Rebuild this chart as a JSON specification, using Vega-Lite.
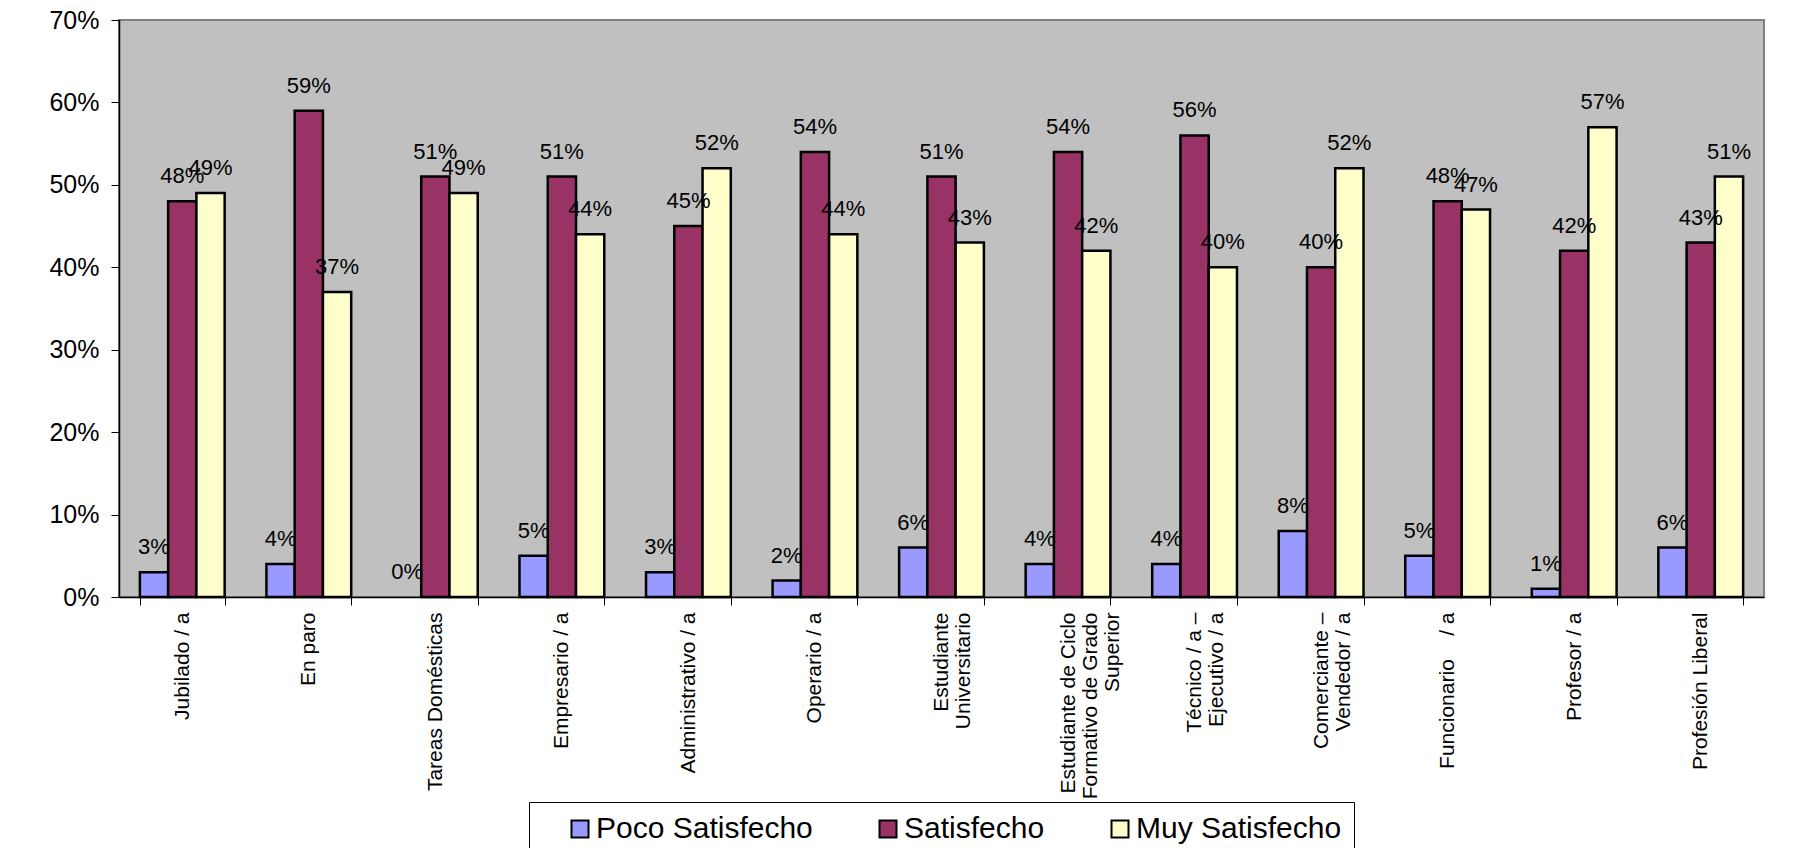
{
  "$schema": "https://vega.github.io/schema/vega-lite/v6.json",
  "autosize": {"type": "none"},
  "width": 1645,
  "height": 577,
  "padding": {"left": 119, "top": 20, "right": 32, "bottom": 251},
  "background": "white",
  "config": {
    "font": "Liberation Sans",
    "view": {"fill": "#C0C0C0", "stroke": "#808080", "strokeWidth": 2}
  },
  "data": {
    "values": [
      {"ocupacion": "Jubilado / a", "grupo": "Poco Satisfecho", "valor": 0.03},
      {"ocupacion": "Jubilado / a", "grupo": "Satisfecho", "valor": 0.48},
      {"ocupacion": "Jubilado / a", "grupo": "Muy Satisfecho", "valor": 0.49},
      {"ocupacion": "En paro", "grupo": "Poco Satisfecho", "valor": 0.04},
      {"ocupacion": "En paro", "grupo": "Satisfecho", "valor": 0.59},
      {"ocupacion": "En paro", "grupo": "Muy Satisfecho", "valor": 0.37},
      {"ocupacion": "Tareas Domésticas", "grupo": "Poco Satisfecho", "valor": 0.0},
      {"ocupacion": "Tareas Domésticas", "grupo": "Satisfecho", "valor": 0.51},
      {"ocupacion": "Tareas Domésticas", "grupo": "Muy Satisfecho", "valor": 0.49},
      {"ocupacion": "Empresario / a", "grupo": "Poco Satisfecho", "valor": 0.05},
      {"ocupacion": "Empresario / a", "grupo": "Satisfecho", "valor": 0.51},
      {"ocupacion": "Empresario / a", "grupo": "Muy Satisfecho", "valor": 0.44},
      {"ocupacion": "Administrativo / a", "grupo": "Poco Satisfecho", "valor": 0.03},
      {"ocupacion": "Administrativo / a", "grupo": "Satisfecho", "valor": 0.45},
      {"ocupacion": "Administrativo / a", "grupo": "Muy Satisfecho", "valor": 0.52},
      {"ocupacion": "Operario / a", "grupo": "Poco Satisfecho", "valor": 0.02},
      {"ocupacion": "Operario / a", "grupo": "Satisfecho", "valor": 0.54},
      {"ocupacion": "Operario / a", "grupo": "Muy Satisfecho", "valor": 0.44},
      {"ocupacion": "Estudiante|Universitario", "grupo": "Poco Satisfecho", "valor": 0.06},
      {"ocupacion": "Estudiante|Universitario", "grupo": "Satisfecho", "valor": 0.51},
      {"ocupacion": "Estudiante|Universitario", "grupo": "Muy Satisfecho", "valor": 0.43},
      {"ocupacion": "Estudiante de Ciclo|Formativo de Grado|Superior", "grupo": "Poco Satisfecho", "valor": 0.04},
      {"ocupacion": "Estudiante de Ciclo|Formativo de Grado|Superior", "grupo": "Satisfecho", "valor": 0.54},
      {"ocupacion": "Estudiante de Ciclo|Formativo de Grado|Superior", "grupo": "Muy Satisfecho", "valor": 0.42},
      {"ocupacion": "Técnico / a –|Ejecutivo / a", "grupo": "Poco Satisfecho", "valor": 0.04},
      {"ocupacion": "Técnico / a –|Ejecutivo / a", "grupo": "Satisfecho", "valor": 0.56},
      {"ocupacion": "Técnico / a –|Ejecutivo / a", "grupo": "Muy Satisfecho", "valor": 0.40},
      {"ocupacion": "Comerciante –|Vendedor / a", "grupo": "Poco Satisfecho", "valor": 0.08},
      {"ocupacion": "Comerciante –|Vendedor / a", "grupo": "Satisfecho", "valor": 0.40},
      {"ocupacion": "Comerciante –|Vendedor / a", "grupo": "Muy Satisfecho", "valor": 0.52},
      {"ocupacion": "Funcionario\u00a0\u00a0\u00a0\u00a0/ a", "grupo": "Poco Satisfecho", "valor": 0.05},
      {"ocupacion": "Funcionario\u00a0\u00a0\u00a0\u00a0/ a", "grupo": "Satisfecho", "valor": 0.48},
      {"ocupacion": "Funcionario\u00a0\u00a0\u00a0\u00a0/ a", "grupo": "Muy Satisfecho", "valor": 0.47},
      {"ocupacion": "Profesor / a", "grupo": "Poco Satisfecho", "valor": 0.01},
      {"ocupacion": "Profesor / a", "grupo": "Satisfecho", "valor": 0.42},
      {"ocupacion": "Profesor / a", "grupo": "Muy Satisfecho", "valor": 0.57},
      {"ocupacion": "Profesión Liberal", "grupo": "Poco Satisfecho", "valor": 0.06},
      {"ocupacion": "Profesión Liberal", "grupo": "Satisfecho", "valor": 0.43},
      {"ocupacion": "Profesión Liberal", "grupo": "Muy Satisfecho", "valor": 0.51}
    ]
  },
  "encoding": {
    "x": {
      "field": "ocupacion",
      "type": "nominal",
      "sort": null,
      "scale": {"paddingInner": 0.33, "paddingOuter": 0.165},
      "axis": {
        "title": null,
        "labelAngle": -90,
        "labelAlign": "right",
        "labelBaseline": "middle",
        "labelFontSize": 21,
        "labelLineHeight": 22,
        "labelColor": "black",
        "labelPadding": 7,
        "labelExpr": "split(datum.label, '|')",
        "labelLimit": 400,
        "tickBand": "extent",
        "tickColor": "black",
        "tickSize": 8,
        "domainColor": "black",
        "domainWidth": 1.5
      }
    },
    "xOffset": {"field": "grupo", "type": "nominal", "sort": ["Poco Satisfecho", "Satisfecho", "Muy Satisfecho"]},
    "y": {
      "field": "valor",
      "type": "quantitative",
      "scale": {"domain": [0, 0.7], "nice": false},
      "axis": {
        "title": null,
        "format": ".0%",
        "values": [0, 0.1, 0.2, 0.3, 0.4, 0.5, 0.6, 0.7],
        "grid": false,
        "labelFontSize": 25,
        "labelColor": "black",
        "labelPadding": 12,
        "tickColor": "black",
        "tickSize": 8,
        "domainColor": "black",
        "domainWidth": 1.5
      }
    }
  },
  "layer": [
    {
      "transform": [{"filter": "datum.valor > 0"}],
      "mark": {"type": "bar", "stroke": "black", "strokeWidth": 2.5},
      "encoding": {
        "color": {
          "field": "grupo",
          "type": "nominal",
          "sort": ["Poco Satisfecho", "Satisfecho", "Muy Satisfecho"],
          "scale": {"domain": ["Poco Satisfecho", "Satisfecho", "Muy Satisfecho"], "range": ["#9999FF", "#993366", "#FFFFCC"]},
          "legend": {
            "title": null,
            "orient": "none",
            "legendX": 410,
            "legendY": 782,
            "direction": "horizontal",
            "symbolType": "square",
            "symbolSize": 289,
            "symbolStrokeColor": "black",
            "symbolStrokeWidth": 2,
            "symbolOpacity": 1,
            "symbolOffset": 24,
            "labelFontSize": 30,
            "labelColor": "black",
            "labelOffset": 1,
            "columnPadding": 36,
            "strokeColor": "black",
            "fillColor": "white",
            "padding": 12,
            "labelLimit": 400
          }
        }
      }
    },
    {
      "mark": {"type": "text", "fontSize": 22, "color": "black", "baseline": "middle", "dy": -25},
      "encoding": {
        "text": {"field": "valor", "type": "quantitative", "format": ".0%"}
      }
    }
  ]
}
